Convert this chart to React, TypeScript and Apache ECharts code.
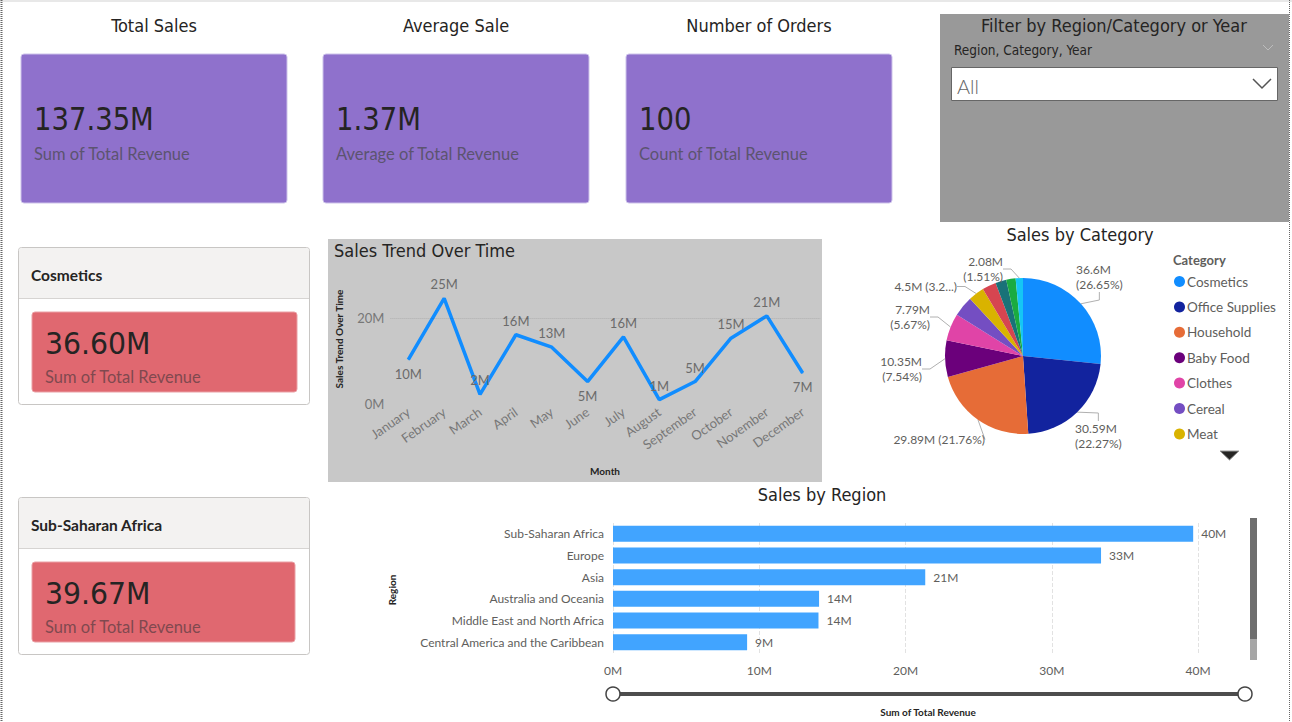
import React, { useEffect, useRef } from "react";
import * as echarts from "echarts";

// ---------- data ----------
const kpiTitles = ["Total Sales", "Average Sale", "Number of Orders"];
const kpiValues = ["137.35M", "1.37M", "100"];
const kpiLabels = ["Sum of Total Revenue", "Average of Total Revenue", "Count of Total Revenue"];

const highlightTitles = ["Cosmetics", "Sub-Saharan Africa"];
const highlightValues = ["36.60M", "39.67M"];
const highlightLabel = "Sum of Total Revenue";

const filterTitle = "Filter by Region/Category or Year";
const filterFields = "Region, Category, Year";
const filterValue = "All";

const lineTitle = "Sales Trend Over Time";
const months = ["January", "February", "March", "April", "May", "June", "July", "August", "September", "October", "November", "December"];
const monthlySales = [10.4, 24.7, 2.3, 16.2, 13.3, 5.3, 15.7, 1.1, 5.3, 15.4, 20.6, 7.3];

const pieTitle = "Sales by Category";
const categories = ["Cosmetics", "Office Supplies", "Household", "Baby Food", "Clothes", "Cereal", "Meat", "Personal Care", "Vegetables", "Beverages", "Snacks"];
const categorySales = [36.6, 30.59, 29.89, 10.35, 7.79, 5.82, 4.5, 3.98, 3.09, 2.66, 2.08];
const labeledCategories = ["Cosmetics", "Office Supplies", "Household", "Baby Food", "Clothes", "Meat", "Snacks"];

const barTitle = "Sales by Region";
const regions = ["Sub-Saharan Africa", "Europe", "Asia", "Australia and Oceania", "Middle East and North Africa", "Central America and the Caribbean", "North America"];
const regionSales = [39.67, 33.37, 21.35, 14.09, 14.05, 9.17, 5.64];

// ---------- styles ----------
const DIN = "'Liberation Sans Narrow','DejaVu Sans Condensed',sans-serif";
const SEGOE = "Lato,'Open Sans',sans-serif";
const DARK = "#252423";
const GREY = "#605E5C";
const PIE_COLORS = ["#118DFF", "#12239E", "#E66C37", "#6B007B", "#E044A7", "#744EC2", "#D9B300", "#D64550", "#197278", "#1AAB40", "#15C6F4"];
const LINE_LABEL_POS = ["bottom", "top", "top", "top", "top", "bottom", "top", "top", "top", "top", "top", "bottom"];
// label placement (layout only) for the pie's outside labels: [x, y(top), align]
const PIE_LABEL_PLACE: Record<string, [number, number, string]> = {
  Cosmetics: [1076, 262, "left"],
  "Office Supplies": [1075, 421, "left"],
  Household: [985, 432, "right"],
  "Baby Food": [922, 354, "right"],
  Clothes: [930, 302, "right"],
  Meat: [957, 279, "right"],
  Snacks: [1003, 254, "right"],
};

const fmtM = (v: number) => `${Number(v.toFixed(2))}M`;
const categoryTotal = categorySales.reduce((a, b) => a + b, 0);

function buildGraphics() {
  const g: any[] = [];
  const txt = (x: number, y: number, text: string, size: number, family: string, fill: string, extra: any = {}) => ({
    type: "text",
    x,
    y,
    silent: true,
    rotation: extra.rotation || 0,
    scaleX: extra.scaleX || 1,
    style: {
      text,
      fontSize: size,
      fontFamily: family,
      fontWeight: extra.weight || "normal",
      fill,
      align: extra.align || "left",
      verticalAlign: "middle",
    },
  });

  // canvas edges
  g.push({ type: "rect", silent: true, shape: { x: 0, y: 0, width: 1292, height: 2 }, style: { fill: "#e8e8e8" } });
  g.push({ type: "line", silent: true, shape: { x1: 1.5, y1: 0, x2: 1.5, y2: 722 }, style: { stroke: "#666", lineWidth: 2, lineDash: [1, 1] } });
  g.push({ type: "line", silent: true, shape: { x1: 1289.5, y1: 0, x2: 1289.5, y2: 722 }, style: { stroke: "#666", lineWidth: 1, lineDash: [1, 1] } });

  // KPI cards
  const kx = [21, 323, 626];
  kpiTitles.forEach((t, i) => {
    const x = kx[i];
    g.push(txt(x + 133, 25, t, 18, DIN, DARK, { align: "center" }));
    g.push({ type: "rect", silent: true, shape: { x, y: 54, width: 266, height: 149, r: 3 }, style: { fill: "#8f71cc", stroke: "#cdc3ea", lineWidth: 1 } });
    g.push(txt(x + 13, 119, kpiValues[i], 32, DIN, DARK, { scaleX: 0.955 }));
    g.push(txt(x + 13, 154, kpiLabels[i], 16.5, SEGOE, "#5c5470"));
  });

  // highlight cards
  const hy = [248, 498];
  const innerW = [265, 263];
  highlightTitles.forEach((t, i) => {
    const y = hy[i];
    g.push({ type: "rect", silent: true, shape: { x: 18.5, y: y - 0.5, width: 291, height: 157, r: 3 }, style: { fill: "#fff", stroke: "#c8c6c4", lineWidth: 1 } });
    g.push({ type: "rect", silent: true, shape: { x: 19, y, width: 290, height: 50, r: [3, 3, 0, 0] }, style: { fill: "#f3f2f1" } });
    g.push({ type: "line", silent: true, shape: { x1: 19, y1: y + 50.5, x2: 309, y2: y + 50.5 }, style: { stroke: "#d6d4d2", lineWidth: 1 } });
    g.push(txt(31, y + 27, t, 15.5, SEGOE, DARK, { weight: "bold" }));
    g.push({ type: "rect", silent: true, shape: { x: 32, y: y + 64, width: innerW[i], height: 80, r: 3 }, style: { fill: "#e06870", stroke: "#eaa0a5", lineWidth: 1 } });
    g.push(txt(45, y + 95, highlightValues[i], 30, DIN, DARK, { scaleX: 1.05 }));
    g.push(txt(45, y + 128.5, highlightLabel, 16.5, SEGOE, "#80494f"));
  });

  // filter panel
  g.push({ type: "rect", silent: true, shape: { x: 940, y: 14, width: 349, height: 208 }, style: { fill: "#999999" } });
  g.push(txt(1114, 25, filterTitle, 18, DIN, DARK, { align: "center" }));
  g.push(txt(954, 50, filterFields, 13.5, DIN, DARK));
  g.push({ type: "polyline", silent: true, shape: { points: [[1263, 45], [1268, 50], [1273, 45]] }, style: { stroke: "#bdbdbd", lineWidth: 1, fill: null } });
  g.push({ type: "rect", silent: true, shape: { x: 951.5, y: 67.5, width: 326, height: 33 }, style: { fill: "#fff", stroke: "#666", lineWidth: 1 } });
  g.push(txt(957, 86, filterValue, 20, SEGOE, "#666", { weight: 300 }));
  g.push({ type: "polyline", silent: true, shape: { points: [[1253, 79], [1262, 88], [1271, 79]] }, style: { stroke: "#555", lineWidth: 1.5, fill: null } });

  // line chart panel
  g.push({ type: "rect", silent: true, z: -10, shape: { x: 328, y: 239, width: 494, height: 243 }, style: { fill: "#c8c8c8" } });
  g.push(txt(334, 250, lineTitle, 18, DIN, DARK));
  g.push(txt(339, 339, "Sales Trend Over Time", 10, SEGOE, DARK, { align: "center", rotation: Math.PI / 2, weight: "bold" }));
  g.push(txt(605, 471, "Month", 10, SEGOE, DARK, { align: "center", weight: "bold" }));

  // pie
  g.push(txt(1080, 234, pieTitle, 18, DIN, DARK, { align: "center" }));
  g.push(txt(1173, 260, "Category", 13, SEGOE, GREY, { weight: "bold" }));
  g.push({ type: "polygon", silent: true, shape: { points: [[1220, 451], [1239, 451], [1229.5, 460]] }, style: { fill: DARK, stroke: "#999", lineWidth: 1 } });

  // bar
  g.push(txt(822, 494, barTitle, 18, DIN, DARK, { align: "center" }));
  g.push(txt(392, 590, "Region", 10, SEGOE, DARK, { align: "center", rotation: Math.PI / 2, weight: "bold" }));
  g.push(txt(928, 712, "Sum of Total Revenue", 10, SEGOE, DARK, { align: "center", weight: "bold" }));
  // vertical scrollbar
  g.push({ type: "rect", silent: true, shape: { x: 1250, y: 518, width: 7, height: 142 }, style: { fill: "#a6a6a6" } });
  g.push({ type: "rect", silent: true, shape: { x: 1250, y: 518, width: 7, height: 121 }, style: { fill: "#6e6e6e" } });
  // range slider
  g.push({ type: "line", silent: true, shape: { x1: 613, y1: 694, x2: 1245, y2: 694 }, style: { stroke: "#4d4d4d", lineWidth: 4 } });
  g.push({ type: "circle", silent: true, shape: { cx: 613, cy: 694, r: 7 }, style: { fill: "#fff", stroke: "#444", lineWidth: 1.5 } });
  g.push({ type: "circle", silent: true, shape: { cx: 1245, cy: 694, r: 7 }, style: { fill: "#fff", stroke: "#444", lineWidth: 1.5 } });
  return g;
}

function buildOption(): any {
  return {
    animation: false,
    backgroundColor: "#ffffff",
    graphic: { elements: buildGraphics() },
    grid: [
      { left: 390.4, top: 288.4, width: 430.2, height: 115.9 },
      { left: 613, top: 523, width: 585, height: 130 },
    ],
    xAxis: [
      {
        gridIndex: 0,
        type: "category",
        data: months,
        boundaryGap: true,
        axisLine: { show: false },
        axisTick: { show: false },
        axisLabel: { rotate: 35, interval: 0, color: "#777", fontSize: 13, fontFamily: SEGOE, margin: 6 },
      },
      {
        gridIndex: 1,
        type: "value",
        min: 0,
        max: 40,
        interval: 10,
        axisLine: { show: false },
        axisTick: { show: false },
        axisLabel: { formatter: (v: number) => `${v}M`, color: GREY, fontSize: 12, fontFamily: SEGOE, margin: 11 },
        splitLine: { lineStyle: { type: "dashed", color: "#e2e2e2" } },
      },
    ],
    yAxis: [
      {
        gridIndex: 0,
        type: "value",
        min: 0,
        max: 27,
        interval: 20,
        axisLine: { show: false },
        axisTick: { show: false },
        splitLine: { show: false },
        axisLabel: { formatter: (v: number) => (v % 20 === 0 ? `${v}M` : ""), color: "#777", fontSize: 13, fontFamily: SEGOE, margin: 6 },
      },
      {
        gridIndex: 1,
        type: "category",
        data: regions,
        inverse: true,
        axisLine: { show: false },
        axisTick: { show: false },
        axisLabel: { color: GREY, fontSize: 12, fontFamily: SEGOE, margin: 9 },
      },
    ],
    dataZoom: [
      {
        type: "inside",
        yAxisIndex: 1,
        startValue: 0,
        endValue: 5,
        zoomLock: true,
        zoomOnMouseWheel: false,
        moveOnMouseWheel: false,
        moveOnMouseMove: false,
        filterMode: "filter",
      },
    ],
    legend: {
      orient: "vertical",
      left: 1174,
      top: 274.5,
      padding: 0,
      itemGap: 11.4,
      itemWidth: 11,
      itemHeight: 11,
      icon: "circle",
      selectedMode: false,
      data: categories.slice(0, 7),
      textStyle: { color: GREY, fontSize: 13.5, fontFamily: SEGOE, padding: [0, 0, 0, -3] },
    },
    series: [
      {
        type: "line",
        xAxisIndex: 0,
        yAxisIndex: 0,
        data: monthlySales.map((v, i) => ({ value: v, label: { position: LINE_LABEL_POS[i] } })),
        symbol: "circle",
        symbolSize: 1,
        itemStyle: { color: "#118DFF" },
        lineStyle: { color: "#118DFF", width: 3.5 },
        label: {
          show: true,
          formatter: (p: any) => `${Math.round(p.value)}M`,
          color: "#6b6b6b",
          fontSize: 13,
          fontFamily: SEGOE,
          distance: 7,
        },
        markLine: {
          silent: true,
          symbol: "none",
          label: { show: false },
          lineStyle: { color: "rgba(0,0,0,0.12)", type: "dotted", width: 1 },
          data: [{ yAxis: 20 }],
        },
      },
      {
        type: "pie",
        center: [1023, 356],
        radius: 78,
        startAngle: 90,
        clockwise: true,
        color: PIE_COLORS,
        data: categories.map((name, i) => {
          const shown = labeledCategories.includes(name);
          return { name, value: categorySales[i], label: { show: shown }, labelLine: { show: shown } };
        }),
        label: {
          color: GREY,
          fontSize: 12,
          fontFamily: SEGOE,
          lineHeight: 15,
          formatter: (p: any) => {
            const v = fmtM(p.value);
            const pct = `(${((p.value / categoryTotal) * 100).toFixed(2)}%)`;
            if (p.name === "Household") return `${v} ${pct}`;
            if (p.name === "Meat") return `${v} ${pct.slice(0, 4)}...)`;
            return `${v}\n${pct}`;
          },
        },
        labelLine: { length: 6, length2: 8, lineStyle: { color: "#b0b0b0", width: 1 } },
        labelLayout: (params: any) => {
          const place = PIE_LABEL_PLACE[categories[params.dataIndex]];
          if (!place) return {};
          return { x: place[0], y: place[1], align: place[2], verticalAlign: "top" };
        },
        emphasis: { disabled: true },
      },
      {
        type: "bar",
        xAxisIndex: 1,
        yAxisIndex: 1,
        data: regionSales,
        barWidth: 16,
        itemStyle: { color: "#41A4FF" },
        label: {
          show: true,
          position: "right",
          distance: 8,
          formatter: (p: any) => `${Math.round(p.value)}M`,
          color: GREY,
          fontSize: 12,
          fontFamily: SEGOE,
        },
      },
    ],
  };
}

export default function App() {
  const ref = useRef<HTMLDivElement>(null);
  useEffect(() => {
    if (!ref.current) return;
    const chart = echarts.init(ref.current, null, { renderer: "svg" });
    chart.setOption(buildOption());
    return () => chart.dispose();
  }, []);
  return (
    <div
      ref={ref}
      style={{ position: "fixed", left: 0, top: 0, width: 1292, height: 722, background: "#fff" }}
    />
  );
}
